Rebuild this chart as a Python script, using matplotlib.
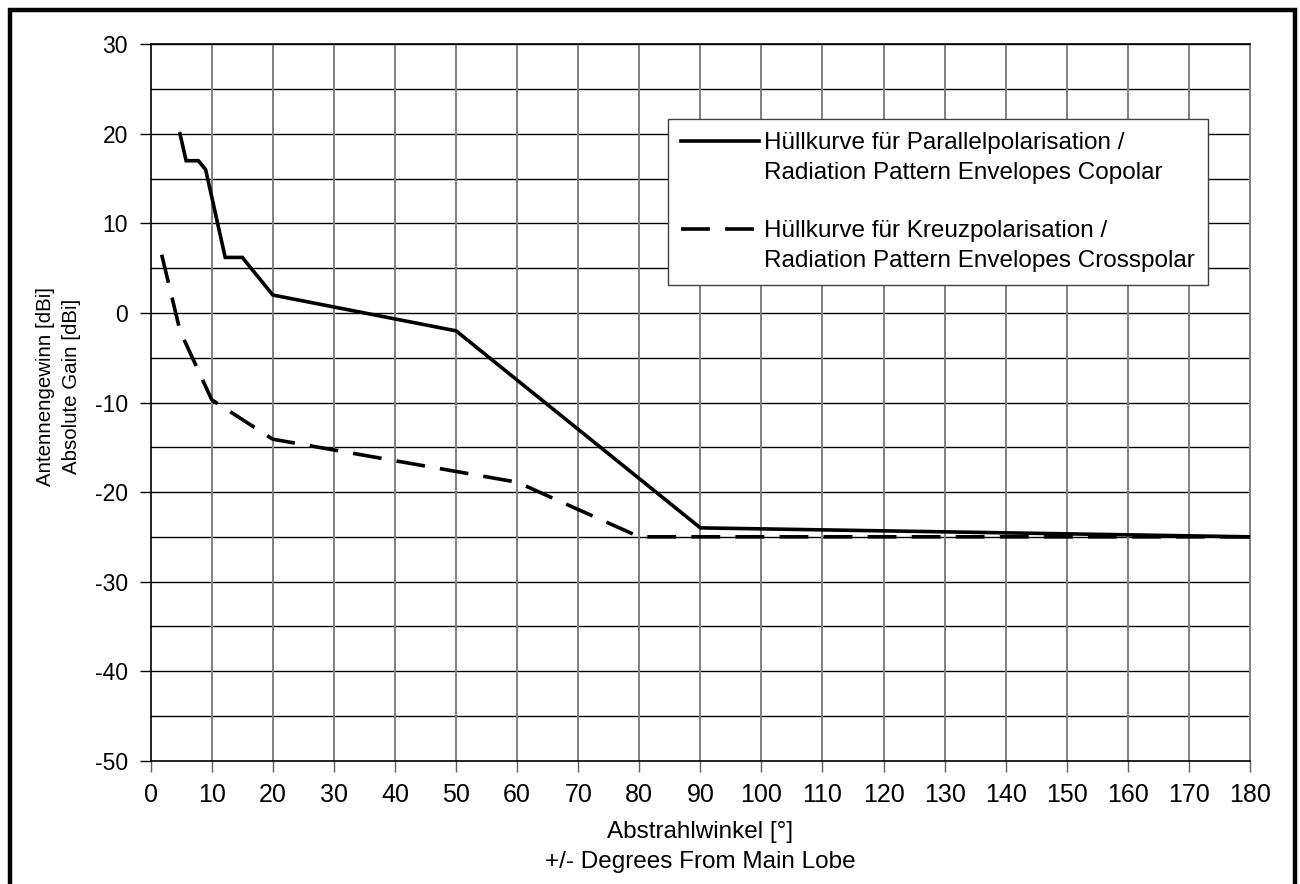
import matplotlib
matplotlib.use("Agg")
import matplotlib.pyplot as plt
from matplotlib.lines import Line2D
from matplotlib.patches import Rectangle
import numpy as np

plt.rcParams['font.family'] = ['Liberation Sans', 'DejaVu Sans']
plt.rcParams['axes.unicode_minus'] = False

# envelope break points (angle in deg, gain in dBi)
co_angle = [4.8, 5.8, 7.8, 9.0, 12.2, 15.0, 20.0, 50.0, 90.0, 180.0]
co_gain = [20.0, 17.0, 17.0, 16.0, 6.2, 6.2, 2.0, -2.0, -24.0, -25.0]

cross_angle = [1.8, 4.8, 10.0, 20.0, 60.0, 80.0, 180.0]
cross_gain = [6.5, -2.0, -9.7, -14.1, -18.9, -25.0, -25.0]

co_label = ["Hüllkurve für Parallelpolarisation /", "Radiation Pattern Envelopes Copolar"]
cross_label = ["Hüllkurve für Kreuzpolarisation /", "Radiation Pattern Envelopes Crosspolar"]

x_ticks = np.arange(0, 181, 10)
y_ticks = np.arange(-50, 31, 10)

W, H = 1300, 884
fig = plt.figure(figsize=(W / 100, H / 100), dpi=100)
ax = fig.add_axes([150.7 / W, 1 - 760.7 / H, (1250 - 150.7) / W, (760.7 - 44.3) / H])

# grid: horizontal every 5 dB (black), vertical every 10 deg (grey)
for yy in np.arange(-45, 31, 5):
    ax.axhline(yy, color='black', lw=1.0, zorder=1)
for xx in x_ticks[1:]:
    ax.axvline(xx, color='#808080', lw=1.4, zorder=1)

dash = (8, 4.2)
ax.plot(co_angle, co_gain, color='black', lw=2.6, solid_joinstyle='miter', zorder=3)
ax.plot(cross_angle, cross_gain, color='black', lw=2.6, dashes=dash, zorder=3)

ax.set_xlim(0, 180)
ax.set_ylim(-50, 30)
ax.set_xticks(x_ticks)
ax.set_yticks(y_ticks)
ax.tick_params(axis='both', direction='out', length=8, width=1, color='black')
ax.tick_params(axis='x', color='#606060', labelsize=18, pad=8)
ax.tick_params(axis='y', labelsize=16.5, pad=8.5)
for side in ['left', 'bottom', 'top']:
    ax.spines[side].set_color('black')
    ax.spines[side].set_linewidth(1.2)
ax.spines['right'].set_color('#808080')
ax.spines['right'].set_linewidth(1.4)

# axis titles
fig.text(0.5385, 1 - 838 / H, "Abstrahlwinkel [°]", ha='center', va='baseline', fontsize=17.5)
fig.text(0.5385, 1 - 868 / H, "+/- Degrees From Main Lobe", ha='center', va='baseline', fontsize=17.5)
fig.text(50.7 / W, 1 - 386 / H, "Antennengewinn [dBi]", rotation=90, rotation_mode='anchor',
         ha='center', va='baseline', fontsize=14.8)
fig.text(76.7 / W, 1 - 386 / H, "Absolute Gain [dBi]", rotation=90, rotation_mode='anchor',
         ha='center', va='baseline', fontsize=14.8)

# legend with the symbol beside the first line of each entry
solid = Line2D([], [], color='black', lw=2.6)
dashed = Line2D([], [], color='black', lw=2.6, dashes=dash)
blank = Line2D([], [], color='none')
leg = ax.legend([solid, blank, blank, dashed, blank],
                [co_label[0], co_label[1], "", cross_label[0], cross_label[1]],
                loc='upper left', bbox_to_anchor=(668 / W, 1 - 119 / H),
                bbox_transform=fig.transFigure, frameon=True, fontsize=17.5,
                fancybox=False, edgecolor='#404040', framealpha=1,
                handlelength=3.2, handletextpad=0.2, labelspacing=0.3,
                borderpad=0.55, borderaxespad=0)
leg.get_frame().set_linewidth(1.0)
leg.set_zorder(5)

# thick frame around the whole chart
fig.patches.append(Rectangle((9.5 / W, -0.05), (1294.5 - 9.5) / W, 1.05 - 9.5 / H,
                             transform=fig.transFigure, fill=False, lw=3.2,
                             edgecolor='black', clip_on=False))

fig.savefig("out.png", dpi=100)
